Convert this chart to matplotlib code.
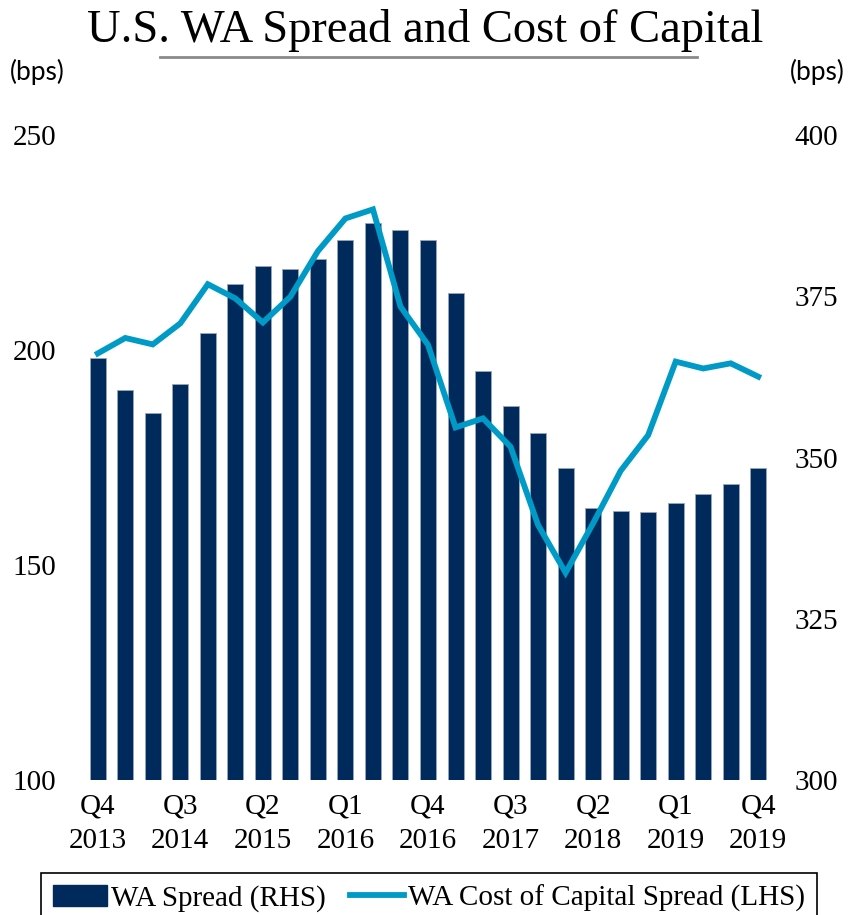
import matplotlib
matplotlib.use("Agg")
import matplotlib.pyplot as plt
from matplotlib.lines import Line2D
from matplotlib.patches import Patch
import numpy as np

# ---- data ----
quarters = ["Q4\n2013", "Q1\n2014", "Q2\n2014", "Q3\n2014", "Q4\n2014",
            "Q1\n2015", "Q2\n2015", "Q3\n2015", "Q4\n2015",
            "Q1\n2016", "Q2\n2016", "Q3\n2016", "Q4\n2016",
            "Q1\n2017", "Q2\n2017", "Q3\n2017", "Q4\n2017",
            "Q1\n2018", "Q2\n2018", "Q3\n2018", "Q4\n2018",
            "Q1\n2019", "Q2\n2019", "Q3\n2019", "Q4\n2019"]
wa_spread_rhs = [365.5, 360.4, 356.9, 361.4, 369.3, 376.9, 379.7, 379.2, 380.7,
                 383.7, 386.3, 385.2, 383.7, 375.5, 363.4, 358.0, 353.8, 348.3,
                 342.1, 341.7, 341.6, 343.0, 344.4, 345.9, 348.3]
cost_cap_lhs = [199.2, 202.8, 201.3, 206.2, 215.3, 212.0, 206.4, 212.4, 223.0,
                230.6, 232.7, 210.1, 201.2, 182.0, 184.1, 177.5, 159.3, 148.2,
                159.7, 171.9, 180.2, 197.3, 195.7, 196.9, 193.8]
left_ticks = [100, 150, 200, 250]
right_ticks = [300, 325, 350, 375, 400]
shown_tick_idx = [0, 3, 6, 9, 12, 15, 18, 21, 24]
title = "U.S. WA Spread and Cost of Capital"
bar_label = "WA Spread (RHS)"
line_label = "WA Cost of Capital Spread (LHS)"

BAR_C = "#002A5C"
LINE_C = "#009AC6"
SERIF = "Liberation Serif"

W, H = 850, 915
fig = plt.figure(figsize=(W / 100, H / 100), dpi=100)
ax = fig.add_axes([84 / W, (H - 780) / H, (772 - 84) / W, (780 - 135) / H])
ax2 = ax.twinx()

x = np.arange(len(quarters))
ax2.bar(x, wa_spread_rhs, width=0.58, color=BAR_C, edgecolor="#9aa6b8",
        linewidth=0.6, zorder=2)
ax2.set_ylim(300, 400)
ax2.set_yticks(right_ticks)

ax.plot(x, cost_cap_lhs, color=LINE_C, lw=4.2, solid_joinstyle="miter", zorder=3)
ax.set_ylim(100, 250)
ax.set_yticks(left_ticks)
ax.set_xlim(-0.5, len(quarters) - 0.5)
ax.set_xticks([x[i] for i in shown_tick_idx])
ax.set_xticklabels([quarters[i] for i in shown_tick_idx], family=SERIF,
                   fontsize=21, linespacing=1.4)

ax.set_zorder(ax2.get_zorder() + 1)
ax.patch.set_visible(False)

for a in (ax, ax2):
    for s in a.spines.values():
        s.set_visible(False)
    a.tick_params(length=0)
ax.tick_params(axis="y", pad=20, labelsize=21)
ax.tick_params(axis="x", pad=10)
ax2.tick_params(axis="y", pad=16, labelsize=21)
for lab in ax.get_yticklabels() + ax2.get_yticklabels():
    lab.set_family(SERIF)

# title with underline
fig.text(0.5, 1 - 31 / H, title, ha="center", va="center", fontsize=33.5, family=SERIF)
fig.add_artist(Line2D([160 / W, 697 / W], [1 - 57 / H] * 2, color="#8a8a8a", lw=2))

# unit labels
fig.text(10 / W, 1 - 72 / H, "(bps)", fontsize=19, family="Lato", va="center", ha="left")
fig.text(845 / W, 1 - 72 / H, "(bps)", fontsize=19, family="Lato", va="center", ha="right")

# legend
handles = [Patch(facecolor=BAR_C, edgecolor=BAR_C),
           Line2D([0], [0], color=LINE_C, lw=4.2)]
leg = fig.legend(handles, [bar_label, line_label], loc="upper center",
                 bbox_to_anchor=(429 / W, 1 - 873 / H), ncol=2, frameon=True,
                 fancybox=False, edgecolor="black", framealpha=1,
                 prop={"family": SERIF, "size": 21}, handlelength=1.85,
                 handletextpad=0.15, columnspacing=0.8, borderpad=0.4,
                 borderaxespad=0)
leg.get_frame().set_linewidth(1.2)

fig.savefig("out.png", dpi=100)
